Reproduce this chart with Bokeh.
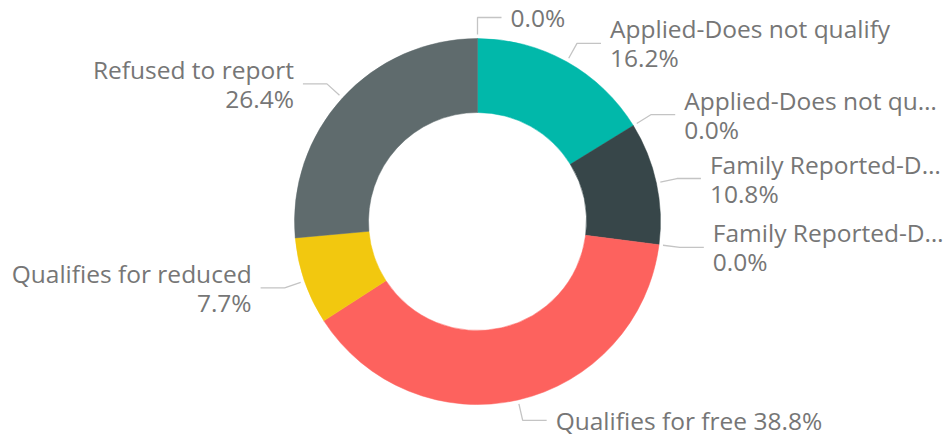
import math
from bokeh.plotting import figure
from bokeh.models import Range1d, ColumnDataSource
from bokeh.core.properties import value
from bokeh.embed import file_html
from bokeh.resources import INLINE

# ---- data ----
categories = ["", "Applied-Does not qualify", "Applied-Does not qu…",
              "Family Reported-D…", "Family Reported-D…",
              "Qualifies for free", "Qualifies for reduced", "Refused to report"]
values = [0.0, 16.2, 0.0, 10.8, 0.0, 38.8, 7.7, 26.4]
colors = ["#8AD4EB", "#01B8AA", "#FE9666", "#374649", "#A66999",
          "#FD625E", "#F2C80F", "#5F6B6D"]

# ---- layout / style ----
W, H = 950, 436
CX, CY = 477, H - 221
R_OUT, R_IN = 183, 109
R_START, R_ELBOW = 187, 204
SEG, GAP = 24, 9
LINE_GAP = 14.5
FONT = value("Open Sans")
FSIZE = "24.5px"
TXT_COLOR = "#767676"
LEADER_COLOR = "#c4c4c4"

p = figure(width=W, height=H, output_backend="svg", toolbar_location=None,
           x_axis_location=None, y_axis_location=None, min_border=0,
           x_range=Range1d(0, W), y_range=Range1d(0, H))
p.grid.visible = False
p.outline_line_color = None
p.background_fill_color = "white"
p.border_fill_color = "white"

total = sum(values)
cum = 0.0
ws, we, wc = [], [], []
lx, ly = [], []
txt_x, txt_y, txt, txt_align = [], [], [], []
for cat, v, col in zip(categories, values, colors):
    f0 = cum / total
    f1 = (cum + v) / total
    cum += v
    if v > 0:
        ws.append(math.pi / 2 - f0 * 2 * math.pi)
        we.append(math.pi / 2 - f1 * 2 * math.pi)
        wc.append(col)
    fm = (f0 + f1) / 2
    a = fm * 2 * math.pi  # clockwise from top
    sx, sy = math.sin(a), math.cos(a)
    x0, y0 = CX + R_START * sx, CY + R_START * sy
    x1, y1 = CX + R_ELBOW * sx, CY + R_ELBOW * sy
    d = 1 if sx >= -1e-9 else -1
    x2 = x1 + d * SEG
    lx.append([x0, x1, x2])
    ly.append([y0, y1, y1])
    pct = f"{v:.1f}%"
    align = "left" if d > 0 else "right"
    tx = x2 + d * GAP
    if cat == "" or abs(sx) < 0.3:
        line = pct if cat == "" else f"{cat} {pct}"
        txt_x.append(tx); txt_y.append(y1); txt.append(line); txt_align.append(align)
    else:
        txt_x += [tx, tx]
        txt_y += [y1 + LINE_GAP, y1 - LINE_GAP]
        txt += [cat, pct]
        txt_align += [align, align]

p.annular_wedge(x=CX, y=CY, inner_radius=R_IN, outer_radius=R_OUT,
                start_angle=ws, end_angle=we, direction="clock",
                fill_color=wc, line_color=wc, line_width=0.5)

p.multi_line(xs=lx, ys=ly, line_color=LEADER_COLOR, line_width=1.3)

src = ColumnDataSource(dict(x=txt_x, y=txt_y, text=txt, align=txt_align))
p.text(x="x", y="y", text="text", source=src, text_align="align",
       text_baseline="middle", text_font=FONT, text_font_size=FSIZE,
       text_color=TXT_COLOR)

open("out.html", "w").write(file_html(p, INLINE))
